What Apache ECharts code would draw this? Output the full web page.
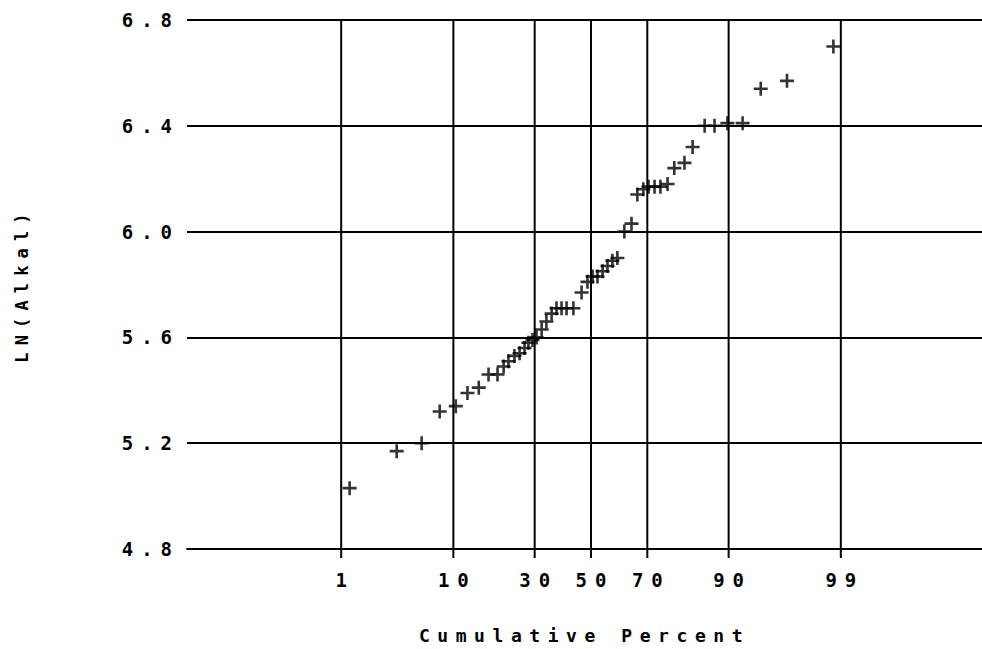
<!DOCTYPE html>
<html>
<head>
<meta charset="utf-8">
<script src="https://cdn.jsdelivr.net/npm/echarts@6/dist/echarts.min.js"></script>
<style>
  html, body { margin: 0; padding: 0; background: #fff; }
  #chart { width: 982px; height: 649px; }
  #chart svg text { letter-spacing: 0.42em; }
</style>
</head>
<body>
<div id="chart"></div>
<script>
// ---- data ----
const cumulativePercent = [
  1.23, 3.52, 5.74, 7.94, 10.4, 12.5, 14.8, 17.0, 19.2, 20.8,
  22.1, 23.8, 25.3, 26.8, 28.0, 29.3, 30.6, 32.3, 33.9, 35.7,
  37.4, 39.2, 41.0, 43.5, 46.5, 48.7, 50.6, 52.4, 54.3, 56.1,
  57.9, 59.7, 62.2, 64.7, 66.7, 68.7, 70.4, 72.3, 74.1, 76.2,
  78.1, 80.8, 82.8, 85.5, 87.5, 89.8, 92.1, 94.3, 96.6, 98.8
];
const lnAlkal = [
  5.03, 5.17, 5.20, 5.32, 5.34, 5.39, 5.41, 5.46, 5.46, 5.49,
  5.51, 5.53, 5.54, 5.56, 5.58, 5.59, 5.60, 5.63, 5.66, 5.69,
  5.71, 5.71, 5.71, 5.71, 5.77, 5.81, 5.83, 5.83, 5.85, 5.87,
  5.89, 5.90, 6.00, 6.03, 6.14, 6.16, 6.17, 6.17, 6.17, 6.18,
  6.24, 6.26, 6.32, 6.40, 6.40, 6.41, 6.41, 6.54, 6.57, 6.70
];
const xTickPercents = [1, 10, 30, 50, 70, 90, 99];
const xTickLabels = ['1', '10', '30', '50', '70', '90', '99'];
const yMin = 4.8, yMax = 6.8, yStep = 0.4;

// inverse standard normal CDF (Acklam)
function probit(p) {
  const a = [-3.969683028665376e+01, 2.209460984245205e+02, -2.759285104469687e+02, 1.383577518672690e+02, -3.066479806614716e+01, 2.506628277459239e+00];
  const b = [-5.447609879822406e+01, 1.615858368580409e+02, -1.556989798598866e+02, 6.680131188771972e+01, -1.328068155288572e+01];
  const c = [-7.784894002430293e-03, -3.223964580411365e-01, -2.400758277161838e+00, -2.549732539343734e+00, 4.374664141464968e+00, 2.938163982698783e+00];
  const d = [7.784695709041462e-03, 3.224671290700398e-01, 2.445134137142996e+00, 3.754408661907416e+00];
  const pl = 0.02425, ph = 1 - pl;
  let q, r;
  if (p < pl) {
    q = Math.sqrt(-2 * Math.log(p));
    return (((((c[0]*q+c[1])*q+c[2])*q+c[3])*q+c[4])*q+c[5]) / ((((d[0]*q+d[1])*q+d[2])*q+d[3])*q+1);
  } else if (p <= ph) {
    q = p - 0.5; r = q * q;
    return (((((a[0]*r+a[1])*r+a[2])*r+a[3])*r+a[4])*r+a[5])*q / (((((b[0]*r+b[1])*r+b[2])*r+b[3])*r+b[4])*r+1);
  } else {
    q = Math.sqrt(-2 * Math.log(1 - p));
    return -(((((c[0]*q+c[1])*q+c[2])*q+c[3])*q+c[4])*q+c[5]) / ((((d[0]*q+d[1])*q+d[2])*q+d[3])*q+1);
  }
}

const FONT = '"DejaVu Sans Mono", "Liberation Mono", monospace';
const points = cumulativePercent.map((p, i) => [probit(p / 100), lnAlkal[i]]);
const tickData = xTickPercents.map(p => [probit(p / 100)]);

const chart = echarts.init(document.getElementById('chart'), null, { renderer: 'svg' });
chart.setOption({
  animation: false,
  backgroundColor: '#fff',
  grid: { left: 187, top: 20, right: 0, bottom: 92, containLabel: false },
  xAxis: {
    type: 'value', min: -3.762, max: 3.641,
    axisLine: { show: true, onZero: false, lineStyle: { color: '#000', width: 2 } },
    axisTick: { show: false }, axisLabel: { show: false }, splitLine: { show: false },
    name: 'Cumulative Percent', nameLocation: 'middle', nameGap: 77,
    nameTextStyle: { fontFamily: FONT, fontSize: 18, fontWeight: 'bold', color: '#000' }
  },
  yAxis: {
    type: 'value', min: yMin, max: yMax, interval: yStep,
    axisLine: { show: true, lineStyle: { color: '#000', width: 2 } },
    axisTick: { show: true, length: 7, lineStyle: { color: '#000', width: 2 } },
    axisLabel: {
      show: true, margin: 7, showMinLabel: true, showMaxLabel: true,
      formatter: v => v.toFixed(1),
      fontFamily: FONT, fontSize: 19, fontWeight: 'bold', color: '#000'
    },
    splitLine: { show: true, lineStyle: { color: '#000', width: 2 } },
    name: 'LN(Alkal)', nameLocation: 'middle', nameRotate: 90, nameGap: 157,
    nameTextStyle: { fontFamily: FONT, fontSize: 17, fontWeight: 'bold', color: '#000' }
  },
  series: [
    {
      type: 'custom', z: 1, clip: false, silent: true,
      data: tickData,
      encode: { x: 0 },
      renderItem: function (params, api) {
        const zv = api.value(0);
        const bot = api.coord([zv, yMin]);
        const top = api.coord([zv, yMax]);
        return {
          type: 'group',
          children: [
            { type: 'line', shape: { x1: bot[0], y1: bot[1] + 9, x2: top[0], y2: top[1] },
              style: { stroke: '#000', lineWidth: 2 } },
            { type: 'text', x: bot[0] + 4, y: bot[1] + 31,
              style: { text: xTickLabels[params.dataIndex], fill: '#000',
                       font: 'bold 19px ' + FONT, align: 'center', verticalAlign: 'middle' } }
          ]
        };
      }
    },
    {
      type: 'scatter', z: 3,
      symbol: 'path://M5.7,0H8.3V5.7H14V8.3H8.3V14H5.7V8.3H0V5.7H5.7Z',
      symbolSize: 14,
      itemStyle: { color: '#000' },
      data: points
    }
  ]
});
</script>
</body>
</html>
